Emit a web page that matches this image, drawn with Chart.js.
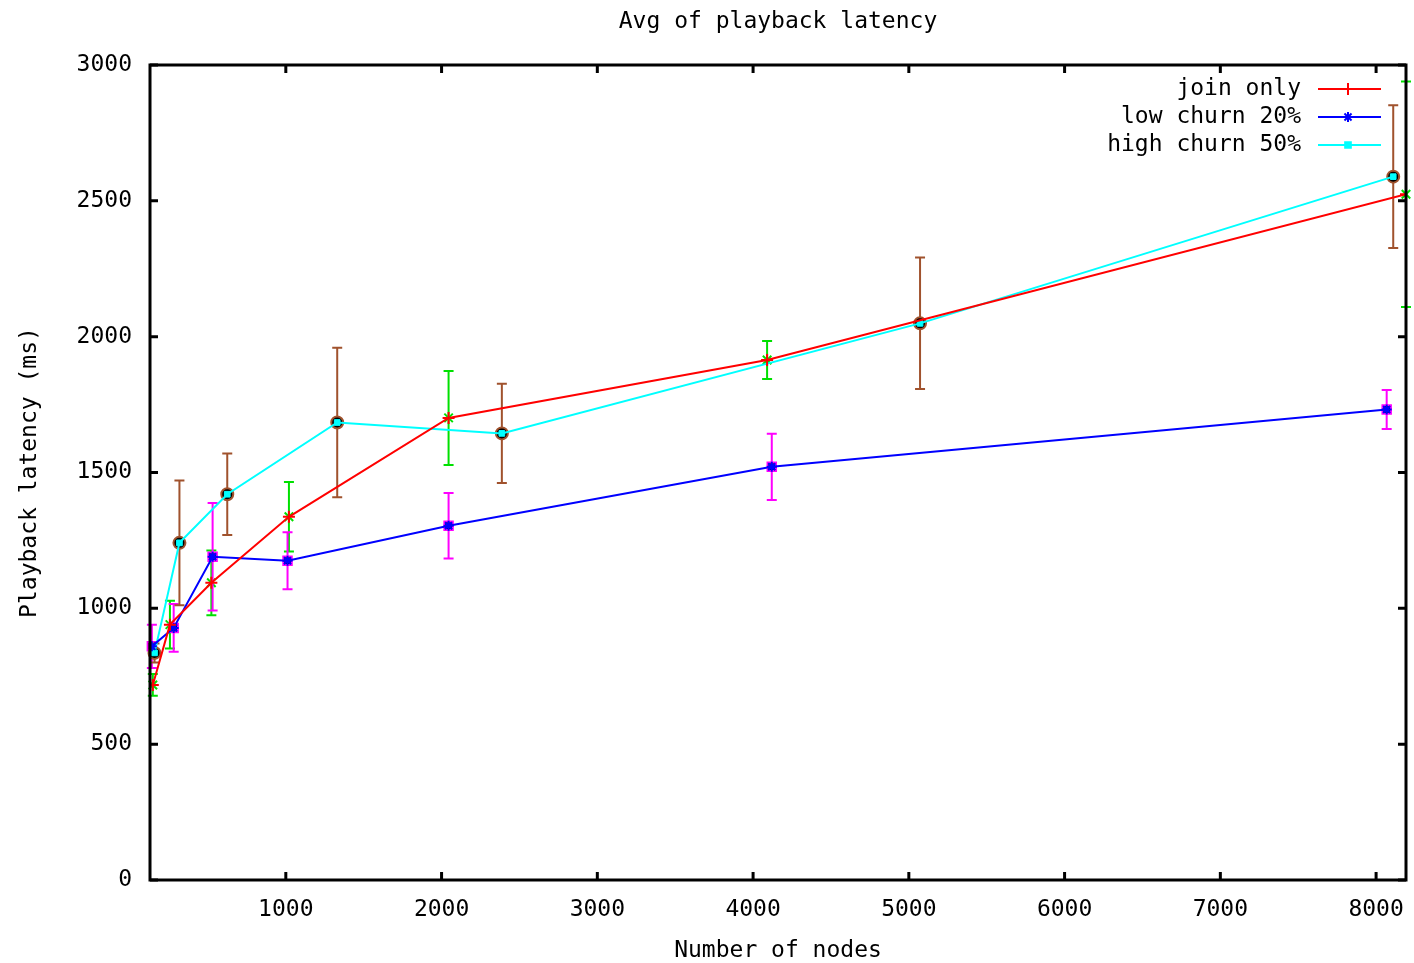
<!DOCTYPE html>
<html>
<head>
<meta charset="utf-8">
<title>Avg of playback latency</title>
<script src="https://cdn.jsdelivr.net/npm/chart.js@4.4.1/dist/chart.umd.min.js"></script>
<style>
  html, body { margin: 0; padding: 0; background: #fff; }
  #contenedor { width: 1414px; height: 963px; }
</style>
</head>
<body>
<div id="contenedor"><canvas id="grafLatencia"></canvas></div>
<script>
// Ticks de los ejes
const xTicks = [1000, 2000, 3000, 4000, 5000, 6000, 7000, 8000];
const yTicks = [0, 500, 1000, 1500, 2000, 2500, 3000];

// join only
const joinX = [146, 256, 522, 1020, 2045, 4090, 8192];
const joinY = [718, 940, 1094, 1337, 1701, 1914, 2524];
const joinErr = [40, 88, 119, 128, 173, 70, 415];

// low churn 20%
const lowX = [140, 280, 530, 1011, 2045, 4120, 8068];
const lowY = [860, 928, 1190, 1175, 1304, 1521, 1732];
const lowErr = [80, 88, 198, 105, 121, 122, 72];

// high churn 50%
const highX = [157, 317, 624, 1330, 2387, 5072, 8110];
const highY = [836, 1241, 1420, 1684, 1644, 2049, 2589];
const highErr = [35, 230, 150, 275, 183, 242, 263];

const FUENTE = "'DejaVu Sans Mono', 'Liberation Mono', monospace";
const TAM = 23;

function puntos(xs, ys) {
  return xs.map((x, i) => ({ x: x, y: ys[i] }));
}

// Barras de error estilo gnuplot (se dibujan antes de las lineas)
const barrasError = {
  id: "barrasError",
  beforeDatasetsDraw(chart) {
    const ctx = chart.ctx;
    const sx = chart.scales.x;
    const sy = chart.scales.y;
    chart.data.datasets.forEach((ds) => {
      const eb = ds.errorBars;
      ctx.save();
      ctx.strokeStyle = eb.color;
      ctx.lineWidth = 2;
      ds.data.forEach((p, i) => {
        const px = sx.getPixelForValue(p.x);
        const top = sy.getPixelForValue(p.y + eb.err[i]);
        const bot = sy.getPixelForValue(p.y - eb.err[i]);
        ctx.beginPath();
        ctx.moveTo(px, top);
        ctx.lineTo(px, bot);
        ctx.moveTo(px - 5, top);
        ctx.lineTo(px + 5, top);
        ctx.moveTo(px - 5, bot);
        ctx.lineTo(px + 5, bot);
        ctx.stroke();
        Chart.helpers.drawPoint(ctx, {
          pointStyle: eb.style,
          radius: eb.radius,
          rotation: 0,
          borderWidth: 2,
        }, px, sy.getPixelForValue(p.y));
      });
      ctx.restore();
    });
  },
};

// Marco, ticks hacia adentro y leyenda
const marco = {
  id: "marco",
  afterDraw(chart) {
    const ctx = chart.ctx;
    const a = chart.chartArea;
    const sx = chart.scales.x;
    const sy = chart.scales.y;
    ctx.save();
    ctx.strokeStyle = "#000";
    ctx.lineWidth = 3;
    ctx.strokeRect(a.left, a.top, a.right - a.left, a.bottom - a.top);
    ctx.beginPath();
    xTicks.forEach((v) => {
      const px = sx.getPixelForValue(v);
      ctx.moveTo(px, a.bottom);
      ctx.lineTo(px, a.bottom - 8);
      ctx.moveTo(px, a.top);
      ctx.lineTo(px, a.top + 8);
    });
    yTicks.forEach((v) => {
      const py = sy.getPixelForValue(v);
      ctx.moveTo(a.left, py);
      ctx.lineTo(a.left + 8, py);
      ctx.moveTo(a.right, py);
      ctx.lineTo(a.right - 8, py);
    });
    ctx.stroke();

    // Leyenda
    ctx.font = TAM + "px " + FUENTE;
    ctx.textAlign = "right";
    ctx.textBaseline = "middle";
    chart.data.datasets.forEach((ds, i) => {
      const y = a.top + 24 + i * 28;
      ctx.fillStyle = "#000";
      ctx.fillText(ds.label, a.left + 1151, y);
      ctx.strokeStyle = ds.borderColor;
      ctx.lineWidth = 2;
      ctx.beginPath();
      ctx.moveTo(a.left + 1168, y);
      ctx.lineTo(a.left + 1231, y);
      ctx.stroke();
      ctx.fillStyle = ds.pointBackgroundColor;
      ctx.strokeStyle = ds.pointBorderColor;
      Chart.helpers.drawPoint(ctx, {
        pointStyle: ds.pointStyle,
        radius: ds.pointRadius,
        rotation: 0,
        borderWidth: ds.pointBorderWidth,
      }, a.left + 1198, y);
    });
    ctx.restore();
  },
};

const ctx = document.getElementById("grafLatencia");

window.grafLatencia = new Chart(ctx, {
  type: "scatter",
  data: {
    datasets: [
      {
        label: "join only",
        data: puntos(joinX, joinY),
        showLine: true,
        borderColor: "#ff0000",
        borderWidth: 2,
        pointStyle: "cross",
        pointRadius: 6,
        pointBorderWidth: 2,
        pointBorderColor: "#ff0000",
        pointBackgroundColor: "#ff0000",
        errorBars: { err: joinErr, color: "#00e000", style: "crossRot", radius: 6 },
      },
      {
        label: "low churn 20%",
        data: puntos(lowX, lowY),
        showLine: true,
        borderColor: "#0000ff",
        borderWidth: 2,
        pointStyle: "star",
        pointRadius: 5,
        pointBorderWidth: 2,
        pointBorderColor: "#0000ff",
        pointBackgroundColor: "#0000ff",
        errorBars: { err: lowErr, color: "#ff00ff", style: "rect", radius: 6 },
      },
      {
        label: "high churn 50%",
        data: puntos(highX, highY),
        showLine: true,
        borderColor: "#00ffff",
        borderWidth: 2,
        pointStyle: "rect",
        pointRadius: 4,
        pointBorderWidth: 1,
        pointBorderColor: "#00ffff",
        pointBackgroundColor: "#00ffff",
        errorBars: { err: highErr, color: "#a0522d", style: "circle", radius: 6 },
      },
    ],
  },
  options: {
    responsive: true,
    maintainAspectRatio: false,
    animation: false,
    events: [],
    layout: { padding: { left: 0, right: 6, top: 0, bottom: 0 } },
    plugins: {
      legend: { display: false },
      tooltip: { enabled: false },
      title: { display: false },
    },
    scales: {
      // eje superior solo para el titulo, centrado sobre el area del grafico
      xTop: {
        type: "linear",
        position: "top",
        min: 128,
        max: 8192,
        afterFit: (scale) => {
          scale.height = 65;
          scale.paddingLeft = 0;
          scale.paddingRight = 0;
        },
        grid: { display: false },
        border: { display: false },
        ticks: { display: false },
        title: {
          display: true,
          text: "Avg of playback latency",
          color: "#000",
          font: { family: FUENTE, size: TAM },
          padding: { top: 8, bottom: 0 },
        },
      },
      x: {
        type: "linear",
        min: 128,
        max: 8192,
        afterBuildTicks: (scale) => {
          scale.ticks = xTicks.map((v) => ({ value: v }));
        },
        afterFit: (scale) => {
          scale.height = 83;
          scale.paddingLeft = 0;
          scale.paddingRight = 0;
        },
        grid: { display: false },
        border: { display: false },
        ticks: {
          color: "#000",
          padding: 8,
          maxRotation: 0,
          font: { family: FUENTE, size: TAM },
          callback: (v) => String(v),
        },
        title: {
          display: true,
          text: "Number of nodes",
          color: "#000",
          font: { family: FUENTE, size: TAM, lineHeight: 1 },
          padding: 0,
        },
      },
      y: {
        min: 0,
        max: 3000,
        afterBuildTicks: (scale) => {
          scale.ticks = yTicks.map((v) => ({ value: v }));
        },
        afterFit: (scale) => {
          scale.width = 150;
        },
        grid: { display: false },
        border: { display: false },
        ticks: {
          color: "#000",
          padding: 10,
          font: { family: FUENTE, size: TAM },
          callback: (v) => String(v),
        },
        title: {
          display: true,
          text: "Playback latency (ms)",
          color: "#000",
          font: { family: FUENTE, size: TAM },
          padding: { top: 16, bottom: 0 },
        },
      },
    },
  },
  plugins: [barrasError, marco],
});
</script>
</body>
</html>
